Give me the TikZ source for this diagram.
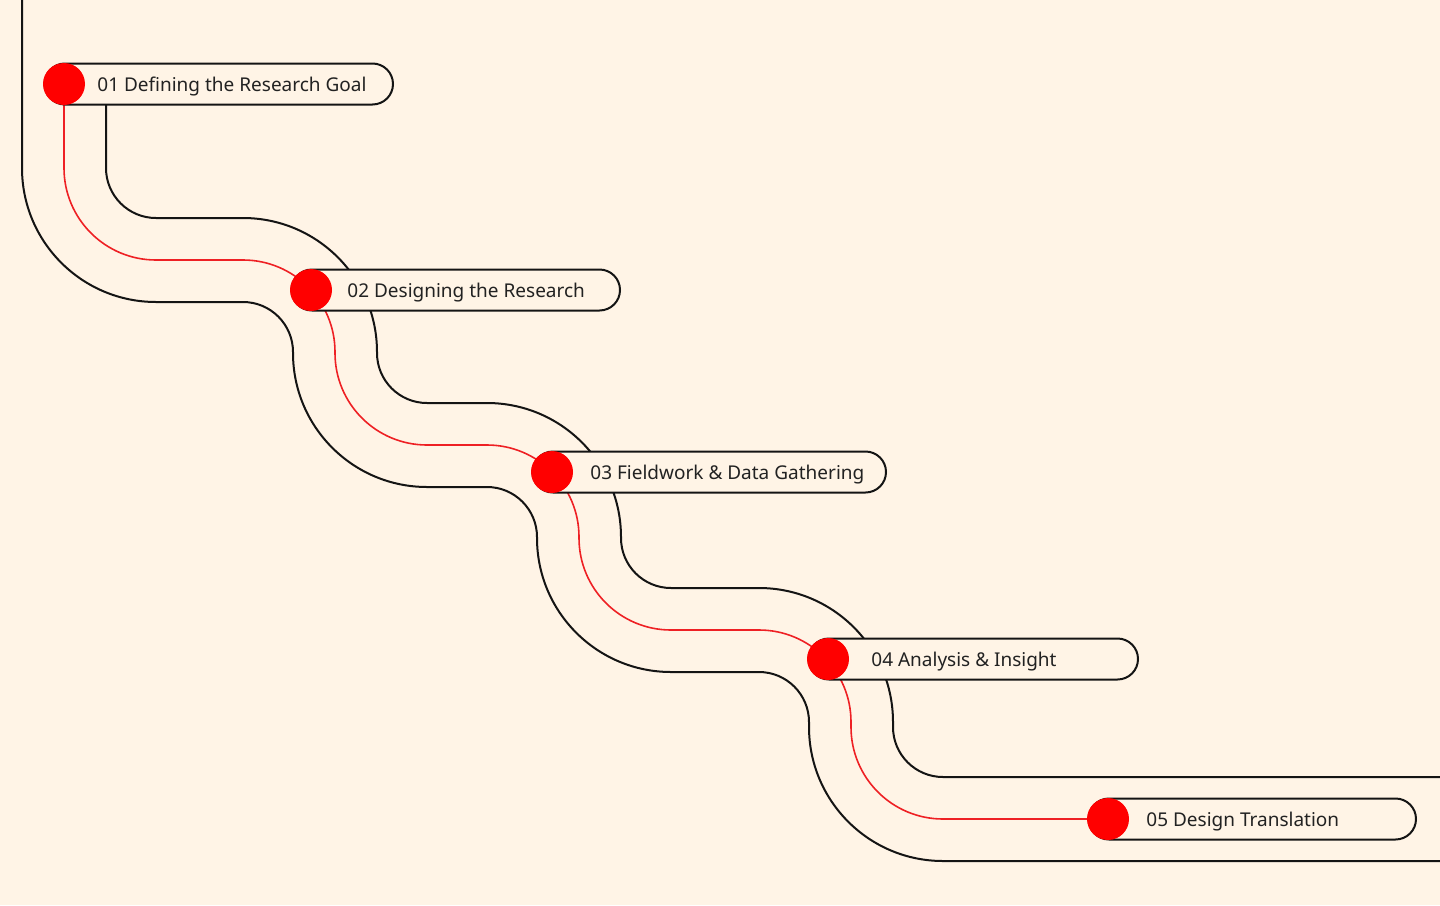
\documentclass[tikz,border=0pt]{standalone}
\usepackage{fontspec}
\setmainfont{Noto Sans}
\usetikzlibrary{positioning}
\definecolor{paper}{RGB}{255,244,230}
\definecolor{pathred}{RGB}{238,32,36}
\definecolor{dotred}{RGB}{255,0,0}
\definecolor{ink}{RGB}{20,20,20}
\definecolor{labelgray}{RGB}{34,34,34}
\tikzset{
  track/.style={draw=ink, line width=1pt},
  route/.style={draw=pathred, line width=0.8pt},
  pill/.style={draw=ink, line width=1pt, fill=paper, anchor=west,
               rounded corners=10.25pt, minimum height=20.5pt, inner sep=0pt},
  stopdot/.style={circle, fill=dotred, minimum size=21pt, inner sep=0pt},
  steplab/.style={font=\fontsize{9.5}{11}\selectfont, text=labelgray,
                  anchor=base west, inner sep=0pt},
}

\begin{document}
\begin{tikzpicture}[x=0.5pt,y=-0.5pt]
  \fill[paper] (0,0) rectangle (1440,905);
  \useasboundingbox (0,0) rectangle (1440,905);

  % Stops on the red route and loose ends of the tracks.
  \coordinate (stop1) at (64,84);
  \coordinate (stop2) at (311,290);
  \coordinate (stop3) at (552,472);
  \coordinate (stop4) at (828,659);
  \coordinate (stop5) at (1108,819);
  \coordinate (outtop) at (22,0);
  \coordinate (outend) at (1440,861);
  \coordinate (intop) at (106,84);
  \coordinate (inend) at (1440,777);

  % Outer track.
  \draw[track] (outtop) -- (22,168) arc[start angle=180, end angle=90, radius=134]
    -- (243,302) arc[start angle=270, end angle=360, radius=50]
    -- (293,353) arc[start angle=180, end angle=90, radius=134]
    -- (487,487) arc[start angle=270, end angle=360, radius=50]
    -- (537,538) arc[start angle=180, end angle=90, radius=134]
    -- (759,672) arc[start angle=270, end angle=360, radius=50]
    -- (809,727) arc[start angle=180, end angle=90, radius=134]
    -- (outend);

  % Inner track.
  \draw[track] (intop) -- (106,168) arc[start angle=180, end angle=90, radius=50]
    -- (243,218) arc[start angle=270, end angle=360, radius=134]
    -- (377,353) arc[start angle=180, end angle=90, radius=50]
    -- (487,403) arc[start angle=270, end angle=360, radius=134]
    -- (621,538) arc[start angle=180, end angle=90, radius=50]
    -- (759,588) arc[start angle=270, end angle=360, radius=134]
    -- (893,727) arc[start angle=180, end angle=90, radius=50]
    -- (inend);

  % Red route between the stops.
  \draw[route] (stop1) -- (64,168) arc[start angle=180, end angle=90, radius=92]
    -- (243,260) arc[start angle=270, end angle=360, radius=92]
    -- (335,353) arc[start angle=180, end angle=90, radius=92]
    -- (487,445) arc[start angle=270, end angle=360, radius=92]
    -- (579,538) arc[start angle=180, end angle=90, radius=92]
    -- (759,630) arc[start angle=270, end angle=360, radius=92]
    -- (851,727) arc[start angle=180, end angle=90, radius=92]
    -- (stop5);

  % Step pills.
  \node[pill, minimum width=174.25pt] (step1) at ([xshift=-10.25pt]stop1) {};
  \node[pill, minimum width=164.25pt] (step2) at ([xshift=-10.25pt]stop2) {};
  \node[pill, minimum width=176.75pt] (step3) at ([xshift=-10.25pt]stop3) {};
  \node[pill, minimum width=164.75pt] (step4) at ([xshift=-10.25pt]stop4) {};
  \node[pill, minimum width=163.75pt] (step5) at ([xshift=-10.25pt]stop5) {};

  \node[stopdot] (dot1) at (stop1) {};
  \node[stopdot] (dot2) at (stop2) {};
  \node[stopdot] (dot3) at (stop3) {};
  \node[stopdot] (dot4) at (stop4) {};
  \node[stopdot] (dot5) at (stop5) {};

  \node[steplab] (lab1) at (97,91.5) {01 Defining the Research Goal};
  \node[steplab] (lab2) at (347,297) {02 Designing the Research};
  \node[steplab] (lab3) at (590,479) {03 Fieldwork \& Data Gathering};
  \node[steplab] (lab4) at (871,666) {04 Analysis \& Insight};
  \node[steplab] (lab5) at (1146,826) {05 Design Translation};
\end{tikzpicture}
\end{document}
